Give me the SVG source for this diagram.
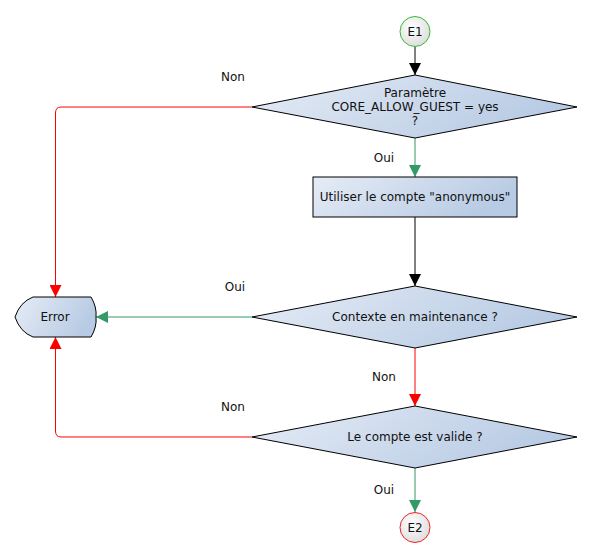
<svg xmlns="http://www.w3.org/2000/svg" width="593" height="557" viewBox="0 0 593 557">
<defs>
<linearGradient id="g" x1="0" y1="0" x2="1" y2="0.3">
<stop offset="0" stop-color="#e6ecf6"/>
<stop offset="1" stop-color="#b8cbe4"/>
</linearGradient>
<radialGradient id="c" cx="0.4" cy="0.35" r="0.7">
<stop offset="0" stop-color="#ffffff"/>
<stop offset="1" stop-color="#dcdcdc"/>
</radialGradient>
<marker id="ak" markerWidth="12" markerHeight="12" viewBox="0 0 12 12" refX="12" refY="6" orient="auto" markerUnits="userSpaceOnUse"><path d="M0,0 L12,6 L0,12 z" fill="#000"/></marker>
<marker id="ar" markerWidth="12" markerHeight="12" viewBox="0 0 12 12" refX="12" refY="6" orient="auto" markerUnits="userSpaceOnUse"><path d="M0,0 L12,6 L0,12 z" fill="#ff0000"/></marker>
<marker id="ag" markerWidth="12" markerHeight="12" viewBox="0 0 12 12" refX="12" refY="6" orient="auto" markerUnits="userSpaceOnUse"><path d="M0,0 L12,6 L0,12 z" fill="#339966"/></marker>
</defs>
<style>
text{font-family:"DejaVu Sans",sans-serif;font-size:12px;fill:#111;}
.n{text-anchor:middle;}
.shape{fill:url(#g);stroke:#000;stroke-width:1;}
.circ{fill:url(#c);stroke-width:1;}
.k{fill:none;stroke:#000;stroke-width:1;}
.r{fill:none;stroke:#ff0000;stroke-width:1;}
.gr{fill:none;stroke:#339966;stroke-width:1;}
</style>
<g id="connectors">
<path class="k" d="M415,47 V75" marker-end="url(#ak)"/>
<path class="gr" d="M415,138 V177" marker-end="url(#ag)"/>
<path class="k" d="M415,217 V286" marker-end="url(#ak)"/>
<path class="r" d="M415,348 V406" marker-end="url(#ar)"/>
<path class="gr" d="M415,468 V512" marker-end="url(#ag)"/>
<path class="r" d="M252,107 H61 Q55.5,107 55.5,113 V297" marker-end="url(#ar)"/>
<path class="gr" d="M252,317 H96" marker-end="url(#ag)"/>
<path class="r" d="M252,437 H61 Q55.5,437 55.5,431 V337" marker-end="url(#ar)"/>
<text x="233" y="81" class="n">Non</text>
<text x="384" y="162" class="n">Oui</text>
<text x="235" y="291" class="n">Oui</text>
<text x="384" y="381" class="n">Non</text>
<text x="233" y="411" class="n">Non</text>
<text x="384" y="494" class="n">Oui</text>
</g>
<g id="E1">
<circle class="circ" cx="415" cy="31.5" r="15" stroke="#33bb33"/>
<text x="415" y="36" class="n">E1</text>
</g>
<g id="D1">
<polygon class="shape" points="252,107 415,75 577,107 415,138"/>
<text x="415" y="97" class="n">Paramètre</text>
<text x="415" y="111" class="n">CORE_ALLOW_GUEST = yes</text>
<text x="415" y="125" class="n">?</text>
</g>
<g id="R1">
<rect class="shape" x="313" y="177" width="204" height="40"/>
<text x="415" y="201" class="n">Utiliser le compte "anonymous"</text>
</g>
<g id="D2">
<polygon class="shape" points="252,317 415,286 577,317 415,348"/>
<text x="415" y="321" class="n">Contexte en maintenance ?</text>
</g>
<g id="D3">
<polygon class="shape" points="252,437 415,406 577,437 415,468"/>
<text x="415" y="441" class="n">Le compte est valide ?</text>
</g>
<g id="Error">
<path class="shape" d="M15,317 Q20,302 33,297 H91 Q97,307 96,317 Q97,327 91,337 H33 Q20,332 15,317 Z"/>
<text x="55" y="321" class="n">Error</text>
</g>
<g id="E2">
<circle class="circ" cx="415" cy="527.5" r="15" stroke="#ee2222"/>
<text x="415" y="532" class="n">E2</text>
</g>
</svg>
